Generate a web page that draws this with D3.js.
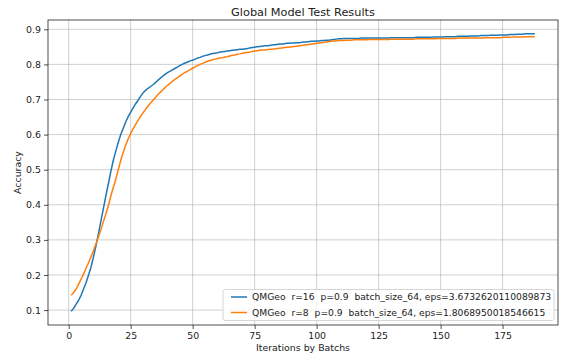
<!DOCTYPE html>
<html><head><meta charset="utf-8">
<script src="https://cdn.jsdelivr.net/npm/d3@7"></script>
<style>body{margin:0;background:#fff}text{font-family:"DejaVu Sans",sans-serif;fill:#222}</style>
</head><body>
<svg id="c" width="562" height="356"></svg>
<script>
const iterStart = 1;
const blueValues = [
0.097,0.105,0.117,0.128,0.142,0.160,0.178,0.200,0.222,0.252,
0.283,0.318,0.354,0.390,0.426,0.460,0.495,0.527,0.553,0.578,
0.600,0.618,0.636,0.651,0.664,0.676,0.688,0.698,0.709,0.719,
0.726,0.732,0.737,0.742,0.748,0.755,0.761,0.767,0.772,0.777,
0.781,0.785,0.789,0.793,0.797,0.801,0.804,0.807,0.810,0.812,
0.815,0.818,0.820,0.823,0.825,0.827,0.829,0.831,0.832,0.833,
0.835,0.836,0.837,0.838,0.839,0.840,0.841,0.842,0.843,0.843,
0.844,0.845,0.847,0.848,0.849,0.850,0.851,0.852,0.853,0.853,
0.854,0.855,0.856,0.857,0.858,0.858,0.859,0.860,0.860,0.861,
0.861,0.862,0.862,0.863,0.864,0.864,0.865,0.866,0.866,0.867,
0.867,0.868,0.868,0.869,0.869,0.870,0.871,0.872,0.873,0.873,
0.874,0.874,0.874,0.874,0.874,0.874,0.874,0.875,0.875,0.875,
0.875,0.875,0.875,0.875,0.875,0.875,0.875,0.875,0.875,0.876,
0.876,0.876,0.876,0.876,0.876,0.876,0.876,0.876,0.876,0.877,
0.877,0.877,0.877,0.877,0.877,0.877,0.878,0.878,0.878,0.878,
0.878,0.879,0.879,0.879,0.879,0.879,0.880,0.880,0.880,0.880,
0.880,0.881,0.881,0.881,0.881,0.882,0.882,0.882,0.882,0.883,
0.883,0.883,0.883,0.884,0.884,0.884,0.884,0.885,0.885,0.885,
0.886,0.886,0.886,0.887,0.887,0.887,0.887,0.887];
const orangeValues = [
0.142,0.150,0.160,0.174,0.188,0.203,0.219,0.235,0.252,0.270,
0.289,0.308,0.330,0.352,0.374,0.398,0.425,0.450,0.473,0.500,
0.527,0.550,0.570,0.588,0.603,0.617,0.629,0.641,0.652,0.662,
0.672,0.681,0.690,0.698,0.706,0.714,0.721,0.728,0.735,0.741,
0.747,0.753,0.758,0.763,0.768,0.773,0.777,0.781,0.785,0.789,
0.793,0.797,0.800,0.803,0.806,0.809,0.811,0.813,0.815,0.817,
0.818,0.819,0.821,0.822,0.824,0.826,0.827,0.829,0.830,0.832,
0.833,0.834,0.835,0.837,0.838,0.839,0.840,0.841,0.841,0.842,
0.843,0.843,0.844,0.845,0.846,0.847,0.848,0.849,0.849,0.850,
0.851,0.852,0.853,0.854,0.855,0.856,0.857,0.858,0.859,0.860,
0.861,0.862,0.863,0.864,0.865,0.866,0.867,0.867,0.868,0.868,
0.868,0.869,0.869,0.869,0.870,0.870,0.870,0.870,0.870,0.870,
0.871,0.871,0.871,0.871,0.871,0.871,0.871,0.871,0.871,0.872,
0.872,0.872,0.872,0.872,0.872,0.872,0.872,0.872,0.872,0.873,
0.873,0.873,0.873,0.873,0.873,0.873,0.873,0.873,0.874,0.874,
0.874,0.874,0.874,0.874,0.874,0.874,0.875,0.875,0.875,0.875,
0.875,0.875,0.875,0.875,0.875,0.875,0.875,0.876,0.876,0.876,
0.876,0.876,0.876,0.876,0.877,0.877,0.877,0.877,0.878,0.878,
0.878,0.878,0.878,0.879,0.879,0.879,0.879,0.879];
const seriesNames = [
  "QMGeo  r=16  p=0.9  batch_size_64, eps=3.6732620110089873",
  "QMGeo  r=8  p=0.9  batch_size_64, eps=1.8068950018546615"];
const seriesColors = ["#1f77b4", "#ff7f0e"];
const xTicks = [0, 25, 50, 75, 100, 125, 150, 175];
const yTicks = [0.1, 0.2, 0.3, 0.4, 0.5, 0.6, 0.7, 0.8, 0.9];
const titleText = "Global Model Test Results";
const xLabel = "Iterations by Batchs";
const yLabel = "Accuracy";

const svg = d3.select("#c");
const L = 48, R = 558, T = 20, B = 325;
const allSeries = [blueValues, orangeValues].map(v => v.map((y, i) => ({x: i + iterStart, y})));
const xmin = iterStart, xmax = iterStart + blueValues.length - 1;
const allY = blueValues.concat(orangeValues);
const ymin = d3.min(allY), ymax = d3.max(allY);
const xs = d3.scaleLinear().domain([xmin - 0.05*(xmax-xmin), xmax + 0.05*(xmax-xmin)]).range([L, R]);
const ys = d3.scaleLinear().domain([ymin - 0.05*(ymax-ymin), ymax + 0.05*(ymax-ymin)]).range([B, T]);

// grid
const g = svg.append("g");
g.selectAll(".vg").data(xTicks).enter().append("line")
  .attr("x1", d => xs(d)).attr("x2", d => xs(d)).attr("y1", T).attr("y2", B)
  .attr("stroke", "#b0b0b0").attr("stroke-width", 0.8).attr("stroke-opacity", 0.75);
g.selectAll(".hg").data(yTicks).enter().append("line")
  .attr("y1", d => ys(d)).attr("y2", d => ys(d)).attr("x1", L).attr("x2", R)
  .attr("stroke", "#b0b0b0").attr("stroke-width", 0.8).attr("stroke-opacity", 0.75);

// lines
const line = d3.line().x(d => xs(d.x)).y(d => ys(d.y));
allSeries.forEach((s, i) => {
  svg.append("path").datum(s).attr("d", line).attr("fill", "none")
    .attr("stroke", seriesColors[i]).attr("stroke-width", 1.5).attr("stroke-linejoin", "round");
});

// axes
const xAxis = d3.axisBottom(xs).tickValues(xTicks).tickSize(4).tickPadding(3).tickFormat(d3.format("d"));
const yAxis = d3.axisLeft(ys).tickValues(yTicks).tickSize(4).tickPadding(3).tickFormat(d3.format(".1f"));
const gx = svg.append("g").attr("transform", `translate(0,${B})`).call(xAxis);
const gy = svg.append("g").attr("transform", `translate(${L},0)`).call(yAxis);
[gx, gy].forEach(a => {
  a.select(".domain").remove();
  a.selectAll("line").attr("stroke", "#222").attr("stroke-width", 0.8);
  a.selectAll("text").attr("font-size", 9.4).attr("font-family", "DejaVu Sans").style("fill", "#222");
});
svg.append("rect").attr("x", L).attr("y", T).attr("width", R - L).attr("height", B - T)
  .attr("fill", "none").attr("stroke", "#222").attr("stroke-width", 0.8);

// texts
svg.append("text").attr("x", (L + R) / 2).attr("y", 16).attr("text-anchor", "middle")
  .attr("font-size", 11.3).text(titleText);
svg.append("text").attr("x", (L + R) / 2).attr("y", 351).attr("text-anchor", "middle")
  .attr("font-size", 9.4).text(xLabel);
svg.append("text").attr("transform", `translate(21,${(T + B) / 2}) rotate(-90)`).attr("text-anchor", "middle")
  .attr("font-size", 9.4).text(yLabel);

// legend
const lg = svg.append("g");
lg.append("rect").attr("x", 223).attr("y", 289.5).attr("width", 331).attr("height", 31)
  .attr("rx", 2).attr("fill", "#fff").attr("fill-opacity", 0.8).attr("stroke", "#ccc").attr("stroke-width", 0.8);
seriesNames.forEach((n, i) => {
  const yy = 297 + i * 15.5;
  lg.append("line").attr("x1", 231).attr("x2", 247).attr("y1", yy).attr("y2", yy)
    .attr("stroke", seriesColors[i]).attr("stroke-width", 1.5);
  lg.append("text").attr("x", 252).attr("y", yy + 3.4).attr("font-size", 9.2)
    .style("white-space", "pre").text(n);
});
</script>
</body></html>
